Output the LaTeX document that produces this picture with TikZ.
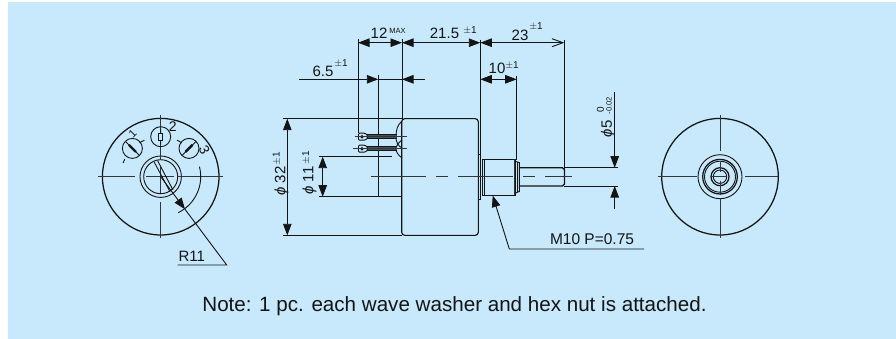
\documentclass[tikz,border=0pt]{standalone}
\usepackage{fontspec}
\setmainfont{Liberation Sans}
\usetikzlibrary{arrows.meta}
\definecolor{bgblue}{HTML}{C7E9FB}
\definecolor{ink}{HTML}{141414}
\definecolor{cl}{HTML}{2F373C}
\tikzset{
 ln/.style={draw=ink,line width=0.9pt},
 thick line/.style={draw=ink,line width=1.25pt},
 cen/.style={draw=cl,line width=1pt},
 dimn/.style={draw=ink,line width=0.9pt},
 arr/.tip={Triangle[length=11.5pt,width=8.5pt]},
 tip/.style={-arr},
 tipb/.style={arr-arr},
 txt/.style={inner sep=0pt,text=ink,font=\fontsize{15}{15}\selectfont},
 supt/.style={inner sep=0pt,text=ink,font=\fontsize{10}{10}\selectfont},
 tinyt/.style={inner sep=0pt,text=ink,font=\fontsize{7.5}{7.5}\selectfont},
}
\begin{document}
\begin{tikzpicture}[x=1pt,y=-1pt]
\useasboundingbox (0,0) rectangle (896,339);
\fill[bgblue] (8,2) rectangle (896,339);
% ---------- left view
\coordinate (L) at (160.7,176.7);
\draw[thick line] (L) circle (58.3);
\draw[ln] (L) circle (20.7);
\draw[ln] (L) circle (17);
\draw[cen] (98.3,176.7)--(135,176.7) (146,176.7)--(174,176.7) (177,176.7)--(222.7,176.7);
\draw[cen] (160.7,115)--(160.7,160) (160.7,167)--(160.7,193) (160.7,202)--(160.7,238);
% terminal circles
\coordinate (T1) at (132.4,148.4);
\coordinate (T2) at (160.7,136.7);
\coordinate (T3) at (189,148.4);
\draw[ln] (T1) circle (10) (T2) circle (10) (T3) circle (10);
\draw[ln] (L) ++(-122:40) arc[start angle=-122,end angle=-114,radius=40];
\draw[ln] (L) ++(-66:40) arc[start angle=-66,end angle=-58,radius=40];
\draw[ln] (L) ++(-160:40) arc[start angle=-160,end angle=-154,radius=40];
\draw[ln] (L) ++(-14.5:40) arc[start angle=-14.5,end angle=64,radius=40];
\draw[ln] (T1) ++(-7,-7)--++(14,14) (T3) ++(7,-7)--++(-14,14) (T2)++(0,-8)--++(0,16);
\draw[line width=2.4pt,draw=ink] (T1) ++(-3.5,-3.5)--++(7,7);
\draw[line width=2.4pt,draw=ink] (T3) ++(3.5,-3.5)--++(-7,7);
\draw[ln,fill=bgblue] (158.7,133) rectangle (162.7,140.5);
\node[txt,font=\fontsize{11}{11}\selectfont,rotate=45] (lab1) at (132.5,134) {1};
\node[txt,font=\fontsize{14}{14}\selectfont] (lab2) at (172.7,126.7) {2};
\node[txt,font=\fontsize{14}{14}\selectfont,rotate=-65] (lab3) at (204.5,150) {3};
% slot
\draw[ln] (154,161.7)--(170,191.7) (157.5,160.5)--(173,190);
% R11
\coordinate (Rend) at (226.7,265);
\coordinate (Rstart) at (177.7,265);
\coordinate (Rtip) at (185,209.3);
\draw[dimn,tip] (L)--(Rtip);
\draw[dimn] (Rtip)--(Rend)--(Rstart);
\node[txt] (r11) at (191.7,256) {R11};
% ---------- middle view: extension lines
\draw[dimn] (283,118.7)--(402,118.7) (283,235.3)--(402,235.3);
\draw[dimn] (319,156.7)--(392,156.7) (319,196.7)--(402,196.7);
\draw[dimn] (358,39)--(358,133);
\draw[dimn] (378.3,75)--(378.3,196.7);
\draw[dimn] (402,39)--(402,118.7);
\draw[dimn] (480.3,40)--(480.3,155);
\draw[dimn] (516.7,76)--(516.7,160);
\draw[dimn] (564.3,40)--(564.3,185);
% body
\node[draw=ink,line width=1.1pt,rounded corners=3pt,minimum width=76.6pt,minimum height=116.6pt,inner sep=0pt] (body) at (440,177) {};
\draw[ln] (402,121)..controls (397,125) and (396,131)..(396,137)
  ..controls (396,142) and (398,146)..(402,148);
\draw[ln] (402,140)..controls (398,143) and (396,146)..(396,149)
  ..controls (396,152) and (398,155)..(402,158);
% leads
\foreach \y/\a/\b in {136.7/355/407,148.7/353/407}{
  \fill[cl!85!bgblue] (367,\y-2.2) rectangle (397,\y+2.2);
  \draw[ink,line width=0.9pt] (367,\y-2.2)--(397,\y-2.2) (367,\y+2.2)--(397,\y+2.2);
  \draw[ln,fill=bgblue,rounded corners=1pt] (358.5,\y-3.5)--(365,\y-3.5)--(367.5,\y-1.5)--(367.5,\y+1.5)--(365,\y+3.5)--(358.5,\y+3.5)--cycle;
  \draw[ln] (362,\y) circle (1.2);
  \draw[draw=cl,line width=0.7pt] (\a,\y)--(\b,\y);
}
% flange, thread, shaft
\node[draw=ink,line width=1pt,minimum width=2.4pt,minimum height=44pt,inner sep=0pt] (flange) at (479.5,177) {};
\draw[thick line] (482.7,159.3) rectangle (515.7,195.3);
\draw[ln] (484.5,159.3)--(484.5,195.3);
\draw[draw=cl,line width=1.2pt] (514.5,159.3)--(514.5,195.3);
\draw[ln] (515.7,161.5)--(519.3,162.5)--(519.3,191.5)--(515.7,193);
\draw[ln] (517.5,162)--(517.5,192);
\draw[thick line] (519.3,167.7)--(562.5,167.7)..controls (564,168.5)..(564.6,170)--(564.6,184)..controls (564,185.5)..(562.5,186)--(519.3,186);
% centreline
\draw[cen] (370.7,176.7)--(425.7,176.7) (435.7,176.7)--(447.7,176.7) (458,176.7)--(513,176.7) (523,176.7)--(535,176.7) (545,176.7)--(572,176.7);
% ---------- dimensions
\draw[dimn,tipb] (287.3,118.7)--(287.3,235.3);
\draw[dimn,tipb] (322.7,156.7)--(322.7,196.7);
\coordinate (d1) at (358,42.7);\coordinate (d2) at (402,42.7);\coordinate (d3) at (480.3,42.7);\coordinate (d4) at (564.3,42.7);
\draw[dimn,tipb] (d1)--(d2);
\draw[dimn,tipb] (d2)--(d3);
\draw[dimn,arr-{Straight Barb[length=11pt,width=8pt]}] (d3)--(d4);
\draw[dimn,tipb] (480.3,79.3)--(516.7,79.3);
\draw[dimn,tip] (299,79.3)--(378.3,79.3);
\draw[dimn,tip] (425,79.3)--(402,79.3);
\draw[dimn] (378.3,79.3)--(402,79.3);
\draw[dimn] (614.7,92)--(614.7,167.7);
\draw[dimn] (614.7,209)--(614.7,186);
\draw[dimn,tip] (614.7,150)--(614.7,167.7);
\draw[dimn,tip] (614.7,205)--(614.7,186);
\draw[dimn] (564.3,167.7)--(618.3,167.7) (564.3,186)--(618.3,186);
\coordinate (m1) at (644,249);\coordinate (m2) at (509.3,249);\coordinate (m3) at (492.7,195.5);
\draw[dimn,tip] (m1)--(m2)--(m3);
% ---------- dimension texts
\node[txt] (t12) at (379,33) {12};
\node[tinyt] (tmax) at (397.5,31) {MAX};
\node[txt] (t215) at (444.5,33.5) {21.5};
\node[supt] (t215s) at (470,30.5) {$\pm$1};
\node[txt] (t23) at (520,35) {23};
\node[supt] (t23s) at (536,26.5) {$\pm$1};
\node[txt] (t10) at (497,68.7) {10};
\node[supt] (t10s) at (512,65) {$\pm$1};
\node[txt] (t65) at (323,71.7) {6.5};
\node[supt] (t65s) at (341,63.5) {$\pm$1};
\node[txt,rotate=90] (t32) at (281.5,181) {\itshape ϕ\upshape\ 32};
\node[supt,rotate=90] (t32s) at (276.5,158.5) {$\pm$1};
\node[txt,rotate=90] (t11) at (309.5,180.5) {\itshape ϕ\upshape\ 11};
\node[supt,rotate=90] (t11s) at (306,158) {$\pm$1};
\node[txt,rotate=90] (t5) at (608,129) {\itshape ϕ\upshape\kern1pt 5};
\node[supt,rotate=90] (t50) at (600.5,110) {0};
\node[tinyt,rotate=90] (t5m) at (609,105.5) {-0.02};
\node[txt,font=\fontsize{15.5}{15.5}\selectfont] (tm10) at (592,239.5) {M10 P=0.75};
% ---------- right view
\coordinate (Q) at (720,176.7);
\draw[thick line] (Q) circle (58.3);
\draw[ln] (Q) circle (22);
\draw[thick line] (Q) circle (17.3);
\draw[ln] (Q) circle (15.5);
\draw[thick line] (Q) circle (9);
\draw[ln] (Q) circle (6.7);
\draw[cen] (658.3,176.7)--(697,176.7) (711,176.7)--(727,176.7) (745,176.7)--(778.3,176.7);
\draw[cen] (720,115)--(720,150.7) (720,162)--(720,172) (720,181)--(720,195) (720,198)--(720,238);
% note
\node[txt,font=\fontsize{20.6}{20.6}\selectfont] (note) at (454.5,306) {Note: 1 pc. each wave washer and hex nut is attached.};
\end{tikzpicture}
\end{document}
